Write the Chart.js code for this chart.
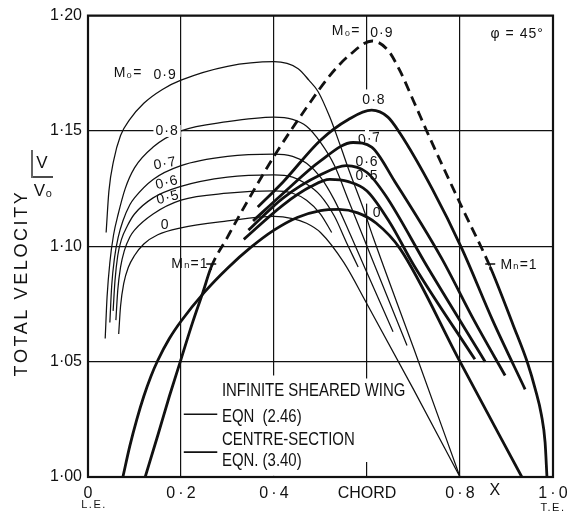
<!DOCTYPE html>
<html><head><meta charset="utf-8">
<script src="https://cdn.jsdelivr.net/npm/chart.js@4/dist/chart.umd.min.js"></script>
<style>html,body{margin:0;padding:0;background:#fff;}</style>
</head><body>
<canvas id="c" width="581" height="527"></canvas>
<script>
// ---------- axis ticks ----------
const xTicks = [0, 0.2, 0.4, 0.6, 0.8, 1.0];
const xTickLabels = ['0', '0\u2009·\u20092', '0\u2009·\u20094', 'CHORD', '0\u2009·\u20098', '1\u2009·\u20090'];
const yTicks = [1.00, 1.05, 1.10, 1.15, 1.20];
const yTickLabels = ['1·00', '1·05', '1·10', '1·15', '1·20'];

// ---------- infinite sheared wing (thin lines), x/c and V/V0 ----------
const thin09X = [0.039,0.045,0.055,0.07,0.09,0.12,0.16,0.2,0.3,0.4,0.452,0.475,0.495,0.52,0.542,0.563,0.591,0.613,0.7,0.8];
const thin09V = [1.106,1.124,1.137,1.148,1.155,1.162,1.168,1.172,1.178,1.180,1.177,1.172,1.167,1.156,1.144,1.132,1.117,1.104,1.056,1.0];
const thin08X = [0.037,0.041,0.047,0.055,0.065,0.08,0.1,0.14,0.2,0.3,0.4,0.44,0.47,0.5,0.53,0.56,0.6,0.686];
const thin08V = [1.060,1.078,1.093,1.105,1.114,1.125,1.134,1.143,1.150,1.154,1.156,1.155,1.152,1.145,1.135,1.12,1.1,1.057];
const thin07X = [0.047,0.051,0.057,0.065,0.075,0.09,0.1,0.14,0.2,0.3,0.4,0.44,0.47,0.5,0.53,0.56,0.6,0.656];
const thin07V = [1.067,1.083,1.095,1.104,1.111,1.118,1.121,1.129,1.135,1.139,1.140,1.139,1.136,1.13,1.12,1.107,1.0885,1.063];
const thin06X = [0.054,0.058,0.064,0.072,0.085,0.1,0.14,0.2,0.3,0.4,0.44,0.47,0.5,0.53,0.555,0.581];
const thin06V = [1.072,1.085,1.096,1.103,1.109,1.114,1.121,1.126,1.130,1.131,1.130,1.127,1.122,1.113,1.102,1.091];
const thin05X = [0.06,0.064,0.07,0.078,0.09,0.1,0.14,0.2,0.3,0.4,0.44,0.47,0.5,0.524];
const thin05V = [1.068,1.081,1.091,1.098,1.104,1.107,1.114,1.12,1.123,1.124,1.123,1.12,1.114,1.106];
const thin0X = [0.066,0.07,0.077,0.087,0.1,0.12,0.15,0.2,0.3,0.4,0.44,0.47,0.5,0.55,0.6,0.7,0.8];
const thin0V = [1.062,1.074,1.084,1.091,1.096,1.101,1.105,1.108,1.111,1.113,1.112,1.11,1.106,1.093,1.075,1.038,1.0];

// ---------- centre section (thick lines) ----------
const thick09X = [0.123,0.15,0.175,0.2,0.225,0.247,0.265,0.3,0.333,0.4,0.473,0.52,0.563,0.611,0.645,0.671,0.7,0.735,0.804,0.865,0.914,0.946,0.962,0.975,0.983,0.987];
const thick09V = [1.0,1.018,1.035,1.051,1.067,1.080,1.091,1.104,1.116,1.139,1.161,1.174,1.183,1.189,1.185,1.176,1.163,1.147,1.117,1.091,1.066,1.049,1.038,1.027,1.015,1.0];
const thick09DashFrom = 6, thick09DashTo = 19;   // M_n > 1 part drawn dashed
const thick08X = [0.365,0.42,0.5,0.56,0.61,0.645,0.671,0.74,0.804,0.87,0.94];
const thick08V = [1.117,1.128,1.146,1.155,1.159,1.156,1.149,1.125,1.099,1.068,1.038];
const thick07X = [0.355,0.42,0.5,0.57,0.61,0.66,0.76,0.83,0.897];
const thick07V = [1.111,1.123,1.137,1.145,1.143,1.128,1.095,1.068,1.044];
const thick06X = [0.345,0.42,0.5,0.555,0.6,0.64,0.73,0.854];
const thick06V = [1.107,1.121,1.131,1.135,1.132,1.122,1.091,1.05];
const thick05X = [0.335,0.42,0.48,0.52,0.56,0.6,0.65,0.70,0.832];
const thick05V = [1.103,1.118,1.126,1.129,1.128,1.124,1.11,1.092,1.051];
const thick0X = [0.075,0.09,0.105,0.12,0.135,0.15,0.175,0.2,0.25,0.3,0.35,0.4,0.45,0.5,0.54,0.58,0.62,0.671,0.8,0.933];
const thick0V = [1.0,1.0135,1.025,1.035,1.0435,1.0505,1.060,1.0675,1.080,1.0905,1.0995,1.107,1.1125,1.1155,1.116,1.1145,1.110,1.099,1.05,1.0];

// ---------- text annotations (data coordinates, rotation in degrees) ----------
const curveLabels = [
  {t:'M₀=', x:0.086, y:1.1750}, {t:'0·9', x:0.166, y:1.1741},
  {t:'0·8', x:0.170, y:1.1500, bg:true}, {t:'0·7', x:0.166, y:1.1358, r:-10},
  {t:'0·6', x:0.170, y:1.1276, r:-14}, {t:'0·5', x:0.172, y:1.1211, r:-14}, {t:'0', x:0.166, y:1.1090},
  {t:'M₀=', x:0.555, y:1.1931}, {t:'0·9', x:0.632, y:1.1922},
  {t:'φ = 45°', x:0.923, y:1.1918},
  {t:'0·8', x:0.615, y:1.1634}, {t:'0·7', x:0.606, y:1.1466, r:-8},
  {t:'0·6', x:0.600, y:1.1366}, {t:'0·5', x:0.600, y:1.1306}, {t:'0', x:0.622, y:1.1142},
  {t:'Mₙ=1', x:0.219, y:1.0922}, {t:'Mₙ=1', x:0.927, y:1.0918}
];
const legendLines = ['INFINITE SHEARED WING', 'EQN  (2.46)', 'CENTRE-SECTION', 'EQN. (3.40)'];

const INK = '#111';
const FONT = '"Liberation Sans", "DejaVu Sans", sans-serif';

function mk(xs, vs, w, dash) {
  const ds = {data: xs.map((x, i) => ({x: x, y: vs[i]})), borderColor: INK, borderWidth: w,
              pointRadius: 0, fill: false, cubicInterpolationMode: 'monotone'};
  if (dash) ds.segment = {borderDash: c => (c.p0DataIndex >= dash[0] && c.p1DataIndex <= dash[1]) ? [10, 6] : undefined};
  return ds;
}
const THIN = 1.25, THICK = 2.8;

const deco = {
  id: 'deco',
  beforeDatasetsDraw(chart) {
    const {ctx} = chart, xs = chart.scales.x, ys = chart.scales.y;
    ctx.save(); ctx.fillStyle = '#fff';
    const gap = (xv, y0, y1) => { const px = xs.getPixelForValue(xv); const a = ys.getPixelForValue(y1), b = ys.getPixelForValue(y0); ctx.fillRect(px - 2, a, 4, b - a); };
    gap(0.4, 1.0005, 1.044); gap(0.6, 1.0065, 1.0427); gap(0.6, 1.1185, 1.168);
    ctx.restore();
  },
  afterDatasetsDraw(chart) {
    const {ctx, chartArea: ca} = chart, xs = chart.scales.x, ys = chart.scales.y;
    const X = v => xs.getPixelForValue(v), Y = v => ys.getPixelForValue(v);
    ctx.save();
    ctx.strokeStyle = INK; ctx.lineWidth = 2.2;
    ctx.strokeRect(ca.left, ca.top, ca.right - ca.left, ca.bottom - ca.top);
    ctx.fillStyle = INK; ctx.textAlign = 'center'; ctx.textBaseline = 'middle';
    ctx.font = '14px ' + FONT; ctx.letterSpacing = '1px';
    curveLabels.forEach(l => {
      const px = X(l.x), py = Y(l.y);
      ctx.save(); ctx.translate(px, py);
      if (l.r) ctx.rotate(l.r * Math.PI / 180);
      if (l.bg) { const w = ctx.measureText(l.t).width; ctx.fillStyle = '#fff'; ctx.fillRect(-w/2 - 2, -6, w + 4, 12); ctx.fillStyle = INK; }
      ctx.fillText(l.t, 0, 0);
      ctx.restore();
    });
    ctx.letterSpacing = '0px';
    // M_n = 1 tick marks at the ends of the dashed part
    ctx.lineWidth = 1.4;
    [thick09DashFrom, thick09DashTo].forEach(i => {
      const px = X(thick09X[i]), py = Y(thick09V[i]);
      ctx.beginPath(); ctx.moveTo(px - 5, py - 3); ctx.lineTo(px + 5, py - 3);
      ctx.moveTo(px, py - 3); ctx.lineTo(px, py + 3); ctx.stroke();
    });
    // legend
    ctx.textAlign = 'left'; ctx.font = '18px ' + FONT;
    const lx = X(0.288);
    const ly = [1.0371, 1.0259, 1.0160, 1.0069];
    legendLines.forEach((t, i) => { ctx.save(); ctx.translate(lx, Y(ly[i])); ctx.scale(0.83, 1); ctx.fillText(t, 0, 0); ctx.restore(); });
    [[1.0272], [1.0108]].forEach(([v], i) => {
      ctx.lineWidth = i ? 1.8 : 1.4;
      ctx.beginPath(); ctx.moveTo(X(0.206), Y(v)); ctx.lineTo(X(0.278), Y(v)); ctx.stroke();
    });
    // extra axis text
    ctx.textAlign = 'center'; ctx.font = '11px ' + FONT; ctx.letterSpacing = '1.5px';
    ctx.fillText('L.E.', X(0) + 6, ca.bottom + 28);
    ctx.fillText('T.E.', X(1), ca.bottom + 31);
    ctx.letterSpacing = '0px';
    ctx.font = '16px ' + FONT;
    ctx.fillText('X', X(0.875), ca.bottom + 14);
    // y axis title
    ctx.save();
    ctx.translate(22, 283); ctx.rotate(-Math.PI / 2);
    ctx.font = '18px ' + FONT; ctx.letterSpacing = '2.6px';
    ctx.fillText('TOTAL VELOCITY', 0, 0);
    ctx.restore();
    ctx.font = '17px ' + FONT;
    ctx.fillText('V', 42, 163);
    ctx.fillText('V₀', 43, 191);
    ctx.lineWidth = 1.3;
    ctx.beginPath(); ctx.moveTo(32, 150); ctx.lineTo(32, 178); ctx.moveTo(33, 177); ctx.lineTo(53, 177); ctx.stroke();
    ctx.restore();
  }
};

new Chart(document.getElementById('c'), {
  type: 'line',
  data: {datasets: [
    mk(thin09X, thin09V, THIN), mk(thin08X, thin08V, THIN), mk(thin07X, thin07V, THIN),
    mk(thin06X, thin06V, THIN), mk(thin05X, thin05V, THIN), mk(thin0X, thin0V, THIN),
    mk(thick09X, thick09V, THICK, [thick09DashFrom, thick09DashTo]),
    mk(thick08X, thick08V, THICK), mk(thick07X, thick07V, THICK), mk(thick06X, thick06V, THICK),
    mk(thick05X, thick05V, THICK), mk(thick0X, thick0V, THICK)
  ]},
  options: {
    responsive: false, animation: false, devicePixelRatio: 1,
    layout: {padding: {top: 14, right: 28, left: 0, bottom: 0}},
    plugins: {legend: {display: false}, tooltip: {enabled: false}},
    scales: {
      x: {type: 'linear', min: 0, max: 1,
          afterBuildTicks: s => { s.ticks = xTicks.map(v => ({value: v})); },
          afterFit: s => { s.height = 50; },
          grid: {color: INK, lineWidth: 1.2, drawTicks: false}, border: {display: false},
          ticks: {autoSkip: false, maxRotation: 0, padding: 7, color: INK, font: {family: FONT, size: 16},
                  callback: (v, i) => xTickLabels[i]}},
      y: {type: 'linear', min: 1, max: 1.2,
          afterBuildTicks: s => { s.ticks = yTicks.map(v => ({value: v})); },
          afterFit: s => { s.width = 88; },
          grid: {color: INK, lineWidth: 1.2, drawTicks: false}, border: {display: false},
          ticks: {autoSkip: false, padding: 6, color: INK, font: {family: FONT, size: 16},
                  callback: (v, i) => yTickLabels[i]}}
    }
  },
  plugins: [deco]
});
</script></body></html>
